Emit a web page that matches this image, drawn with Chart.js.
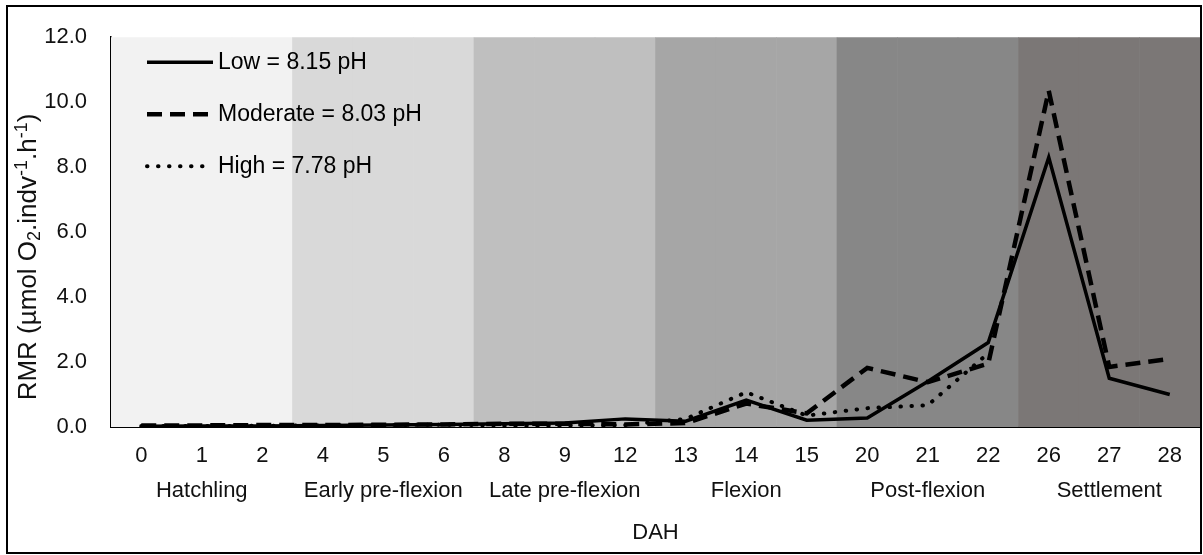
<!DOCTYPE html>
<html>
<head>
<meta charset="utf-8">
<script src="https://cdn.jsdelivr.net/npm/chart.js@4.4.1/dist/chart.umd.min.js"></script>
<style>
  html, body { margin: 0; padding: 0; background: #fff; }
  #wrap { position: relative; width: 1203px; height: 555px; }
</style>
</head>
<body>
<div id="wrap"><canvas id="rmr-chart" width="1203" height="555"></canvas></div>
<script>
// DATA
const days = ["0", "1", "2", "4", "5", "6", "8", "9", "12", "13", "14", "15", "20", "21", "22", "26", "27", "28"];
const stages = ["Hatchling", "Early pre-flexion", "Late pre-flexion", "Flexion", "Post-flexion", "Settlement"];
const stageSize = [3, 3, 3, 3, 3, 3];
const stageColors = ["#f2f2f2", "#d9d9d9", "#bfbfbf", "#a6a6a6", "#878787", "#7b7776"];

const lowValues = [0.02, 0.03, 0.03, 0.05, 0.06, 0.08, 0.10, 0.12, 0.25, 0.18, 0.83, 0.21, 0.28, 1.40, 2.60, 8.30, 1.50, 1.00];
const moderateValues = [0.05, 0.05, 0.06, 0.06, 0.07, 0.08, 0.10, 0.10, 0.08, 0.12, 0.72, 0.42, 1.82, 1.38, 1.95, 10.35, 1.85, 2.10];
const highValues = [0.03, 0.03, 0.04, 0.05, 0.06, 0.07, 0.05, 0.05, 0.06, 0.25, 1.07, 0.35, 0.58, 0.67, 2.27, null, null, null];

const seriesNames = ["Low = 8.15 pH", "Moderate = 8.03 pH", "High = 7.78 pH"];
const yTicks = [0, 2, 4, 6, 8, 10, 12];
// y title pieces: [text, kind] kind: n = normal, sub, sup
const yTitle = [["RMR (µmol O", "n"], ["2", "sub"], [".indv", "n"], ["-1", "sup"], [".h", "n"], ["-1", "sup"], [")", "n"]];

// build the two-row labels (day number, stage name under the middle day)
let labels = [];
let bandColors = [];
let idx = 0;
stages.forEach(function (st, s) {
    for (let k = 0; k < stageSize[s]; k++) {
        let mid = Math.floor(stageSize[s] / 2);
        labels.push([days[idx], k == mid ? st : ""]);
        bandColors.push(stageColors[s]);
        idx++;
    }
});
const bandValues = days.map(function () { return yTicks[yTicks.length - 1]; });

const FONT = "'Liberation Sans', Arial, 'DejaVu Sans', sans-serif";

// frame around the whole figure
const framePlugin = {
    id: "frame",
    beforeDraw(chart) {
        const ctx = chart.ctx;
        ctx.save();
        ctx.fillStyle = "#fff";
        ctx.fillRect(0, 0, chart.width, chart.height);
        ctx.restore();
    },
    afterDraw(chart) {
        const ctx = chart.ctx;
        ctx.save();
        ctx.strokeStyle = "#000";
        ctx.lineWidth = 2;
        ctx.strokeRect(7, 6, chart.width - 9, chart.height - 8);
        ctx.restore();
    }
};

// rotated y title with sub / superscripts
const yTitlePlugin = {
    id: "yTitle",
    afterDraw(chart) {
        const ctx = chart.ctx;
        const big = "26px " + FONT, small = "18px " + FONT;
        ctx.save();
        let total = 0;
        yTitle.forEach(function (p) {
            ctx.font = p[1] == "n" ? big : small;
            total += ctx.measureText(p[0]).width;
        });
        ctx.translate(29, 257);
        ctx.rotate(-Math.PI / 2);
        ctx.fillStyle = "#111";
        ctx.textBaseline = "middle";
        ctx.textAlign = "left";
        let x = -total / 2;
        yTitle.forEach(function (p) {
            ctx.font = p[1] == "n" ? big : small;
            let dy = p[1] == "sub" ? 6 : (p[1] == "sup" ? -7 : 0);
            ctx.fillText(p[0], x, dy);
            x += ctx.measureText(p[0]).width;
        });
        ctx.restore();
    }
};

// legend drawn inside the plot, top-left
const insideLegend = {
    id: "insideLegend",
    afterDatasetsDraw(chart) {
        const ctx = chart.ctx;
        const a = chart.chartArea;
        ctx.save();
        let row = 0;
        chart.data.datasets.forEach(function (ds) {
            if (ds.type !== "line") return;
            const y = a.top + 25 + row * 52;
            const x0 = a.left + 36;
            ctx.beginPath();
            ctx.strokeStyle = "#000";
            ctx.lineWidth = ds.borderWidth;
            ctx.lineCap = ds.borderCapStyle || "butt";
            ctx.setLineDash(ds.borderDash || []);
            ctx.moveTo(x0, y);
            ctx.lineTo(x0 + 66, y);
            ctx.stroke();
            ctx.setLineDash([]);
            ctx.fillStyle = "#000";
            ctx.font = "23px " + FONT;
            ctx.textBaseline = "middle";
            ctx.textAlign = "left";
            ctx.fillText(ds.label, x0 + 71, y);
            row++;
        });
        ctx.restore();
    }
};

const config = {
    type: "bar",
    data: {
        labels: labels,
        datasets: [
            {
                type: "line",
                label: seriesNames[0],
                data: lowValues,
                borderColor: "#000",
                borderWidth: 3.5,
                pointRadius: 0,
                tension: 0,
                order: 1
            },
            {
                type: "line",
                label: seriesNames[1],
                data: moderateValues,
                borderColor: "#000",
                borderWidth: 4.5,
                borderDash: [15, 8],
                pointRadius: 0,
                tension: 0,
                order: 2
            },
            {
                type: "line",
                label: seriesNames[2],
                data: highValues,
                borderColor: "#000",
                borderWidth: 4,
                borderDash: [0.5, 10.5],
                borderCapStyle: "round",
                pointRadius: 0,
                tension: 0,
                spanGaps: false,
                order: 3
            },
            {
                type: "bar",
                label: "stage",
                data: bandValues,
                backgroundColor: bandColors,
                borderWidth: 0,
                barPercentage: 1.0,
                categoryPercentage: 1.0,
                order: 10
            }
        ]
    },
    options: {
        responsive: false,
        devicePixelRatio: 1,
        animation: false,
        layout: { padding: { top: 36, right: 3, left: 0, bottom: 0 } },
        plugins: {
            legend: { display: false },
            tooltip: { enabled: false }
        },
        scales: {
            x: {
                grid: { display: false, drawTicks: false },
                border: { display: true, color: "#000", width: 2 },
                ticks: {
                    color: "#111",
                    font: { family: FONT, size: 22, lineHeight: 1.6 },
                    padding: 11,
                    maxRotation: 0,
                    autoSkip: false
                },
                title: {
                    display: true,
                    text: "DAH",
                    color: "#111",
                    font: { family: FONT, size: 22 },
                    padding: { top: 0, bottom: 9 }
                },
                afterFit(scale) { scale.height = 128; }
            },
            y: {
                min: 0,
                max: 12,
                grid: { display: false, drawTicks: false },
                border: { display: true, color: "#000", width: 1.5 },
                afterBuildTicks(scale) {
                    scale.ticks = yTicks.map(function (v) { return { value: v }; });
                },
                ticks: {
                    color: "#111",
                    font: { family: FONT, size: 22 },
                    padding: 24,
                    callback: function (v) { return Number(v).toFixed(1); }
                },
                title: { display: false },
                afterFit(scale) { scale.width = 111; }
            }
        }
    },
    plugins: [framePlugin, yTitlePlugin, insideLegend]
};

const rmrChart = new Chart(document.getElementById("rmr-chart"), config);
</script>
</body>
</html>
